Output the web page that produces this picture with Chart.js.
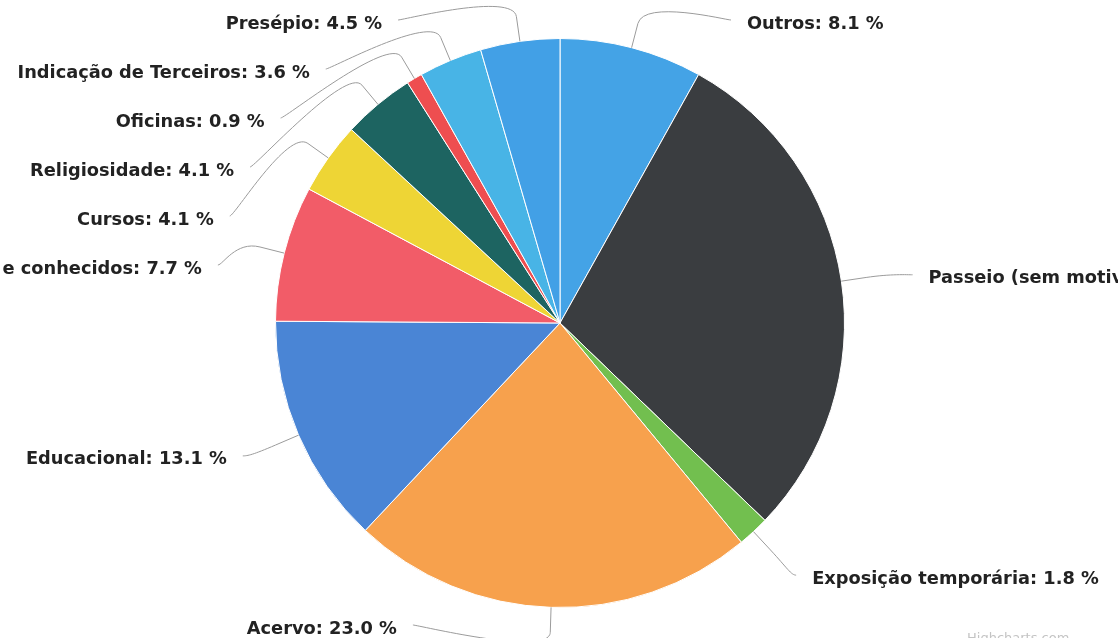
<!DOCTYPE html>
<html><head><meta charset="utf-8">
<script src="https://cdn.jsdelivr.net/npm/chart.js@4/dist/chart.umd.min.js"></script>
<style>html,body{margin:0;padding:0;background:#fff;overflow:hidden}#wrap{position:relative;width:1118px;height:638px}</style>
</head><body><div id="wrap"><canvas id="c" width="1118" height="638"></canvas></div>
<script>
// ---- data ----
const categories = ["Outros","Passeio (sem motivo específico)","Exposição temporária","Acervo","Educacional","Amigos e conhecidos","Cursos","Religiosidade","Oficinas","Indicação de Terceiros","Presépio"];
const percentages = [8.1, 29.1, 1.8, 23.0, 13.1, 7.7, 4.1, 4.1, 0.9, 3.6, 4.5];
const sliceColors = ["#44a3e6","#3a3d40","#72bf4f","#f7a14d","#4a85d5","#f25c68","#eed535","#1d6461","#ee4e50","#48b4e6","#42a0e6"];
const creditText = "Highcharts.com";

// ---- outer labels with connectors (Highcharts-like) ----
const outerLabels = {
  id: 'outerLabels',
  afterDatasetsDraw(chart) {
    const ctx = chart.ctx;
    const meta = chart.getDatasetMeta(0);
    const font = 'bold 17.8px "DejaVu Sans", Verdana, sans-serif';
    const dist = 50, spacing = 49, topY = 24, botY = 629;
    const items = meta.data.map((arc, i) => {
      const p = arc.getProps(['x','y','startAngle','endAngle','outerRadius'], true);
      const mid = (p.startAngle + p.endAngle) / 2;
      const cos = Math.cos(mid), sin = Math.sin(mid);
      return {
        i, p, cos, sin, left: cos < 0,
        natY: p.y + (p.outerRadius + dist) * sin + 5 + 8 * Math.max(sin, 0) * (cos > 0 ? 1 : 0),
        text: categories[i] + ': ' + percentages[i].toFixed(1) + ' %'
      };
    });
    ['L','R'].forEach(side => {
      const list = items.filter(o => (side === 'L') === o.left).sort((a,b) => a.natY - b.natY);
      let prev = -Infinity;
      list.forEach(o => { o.y = Math.max(o.natY, prev + spacing, topY); prev = o.y; });
      let next = Infinity;
      for (let k = list.length - 1; k >= 0; k--) {
        const o = list[k];
        o.y = Math.min(o.y, next - spacing, botY); next = o.y;
      }
    });
    ctx.save();
    items.forEach(o => {
      const {p} = o;
      const R = p.outerRadius + dist;
      const dy = o.y - p.y;
      const dx = Math.sqrt(Math.max(R*R - dy*dy, 0)) + (o.left ? 28 : 37);
      const sgn = o.left ? -1 : 1;
      const tx = p.x + sgn * dx;
      // connector
      const T = {x: p.x + p.outerRadius * o.cos, y: p.y + p.outerRadius * o.sin};
      const B = {x: p.x + (p.outerRadius + 25) * o.cos, y: p.y + (p.outerRadius + 25) * o.sin};
      const Lp = {x: tx - sgn * 16, y: o.y - 4};
      ctx.beginPath();
      ctx.moveTo(Lp.x, Lp.y);
      ctx.bezierCurveTo(Lp.x - sgn * 5, Lp.y, 2*B.x - T.x, 2*B.y - T.y, B.x, B.y);
      ctx.lineTo(T.x, T.y);
      ctx.strokeStyle = '#9b9b9b';
      ctx.lineWidth = 1;
      ctx.stroke();
      // text
      ctx.font = font;
      ctx.fillStyle = '#222222';
      ctx.textBaseline = 'middle';
      ctx.textAlign = o.left ? 'right' : 'left';
      ctx.fillText(o.text, tx, o.y);
    });
    // credits
    ctx.font = '13px "DejaVu Sans", sans-serif';
    ctx.fillStyle = '#c4c4c4';
    ctx.textAlign = 'left';
    ctx.textBaseline = 'top';
    ctx.fillText(creditText, 967, 632);
    ctx.restore();
  }
};

new Chart(document.getElementById('c'), {
  type: 'pie',
  data: {
    labels: categories,
    datasets: [{
      data: percentages,
      backgroundColor: sliceColors,
      borderColor: '#ffffff',
      borderWidth: 1
    }]
  },
  options: {
    responsive: false,
    animation: false,
    layout: { padding: { top: 38, bottom: 30, left: 2, right: 0 } },
    plugins: { legend: { display: false }, tooltip: { enabled: false }, title: { display: false } }
  },
  plugins: [outerLabels]
});
</script>
</body></html>
